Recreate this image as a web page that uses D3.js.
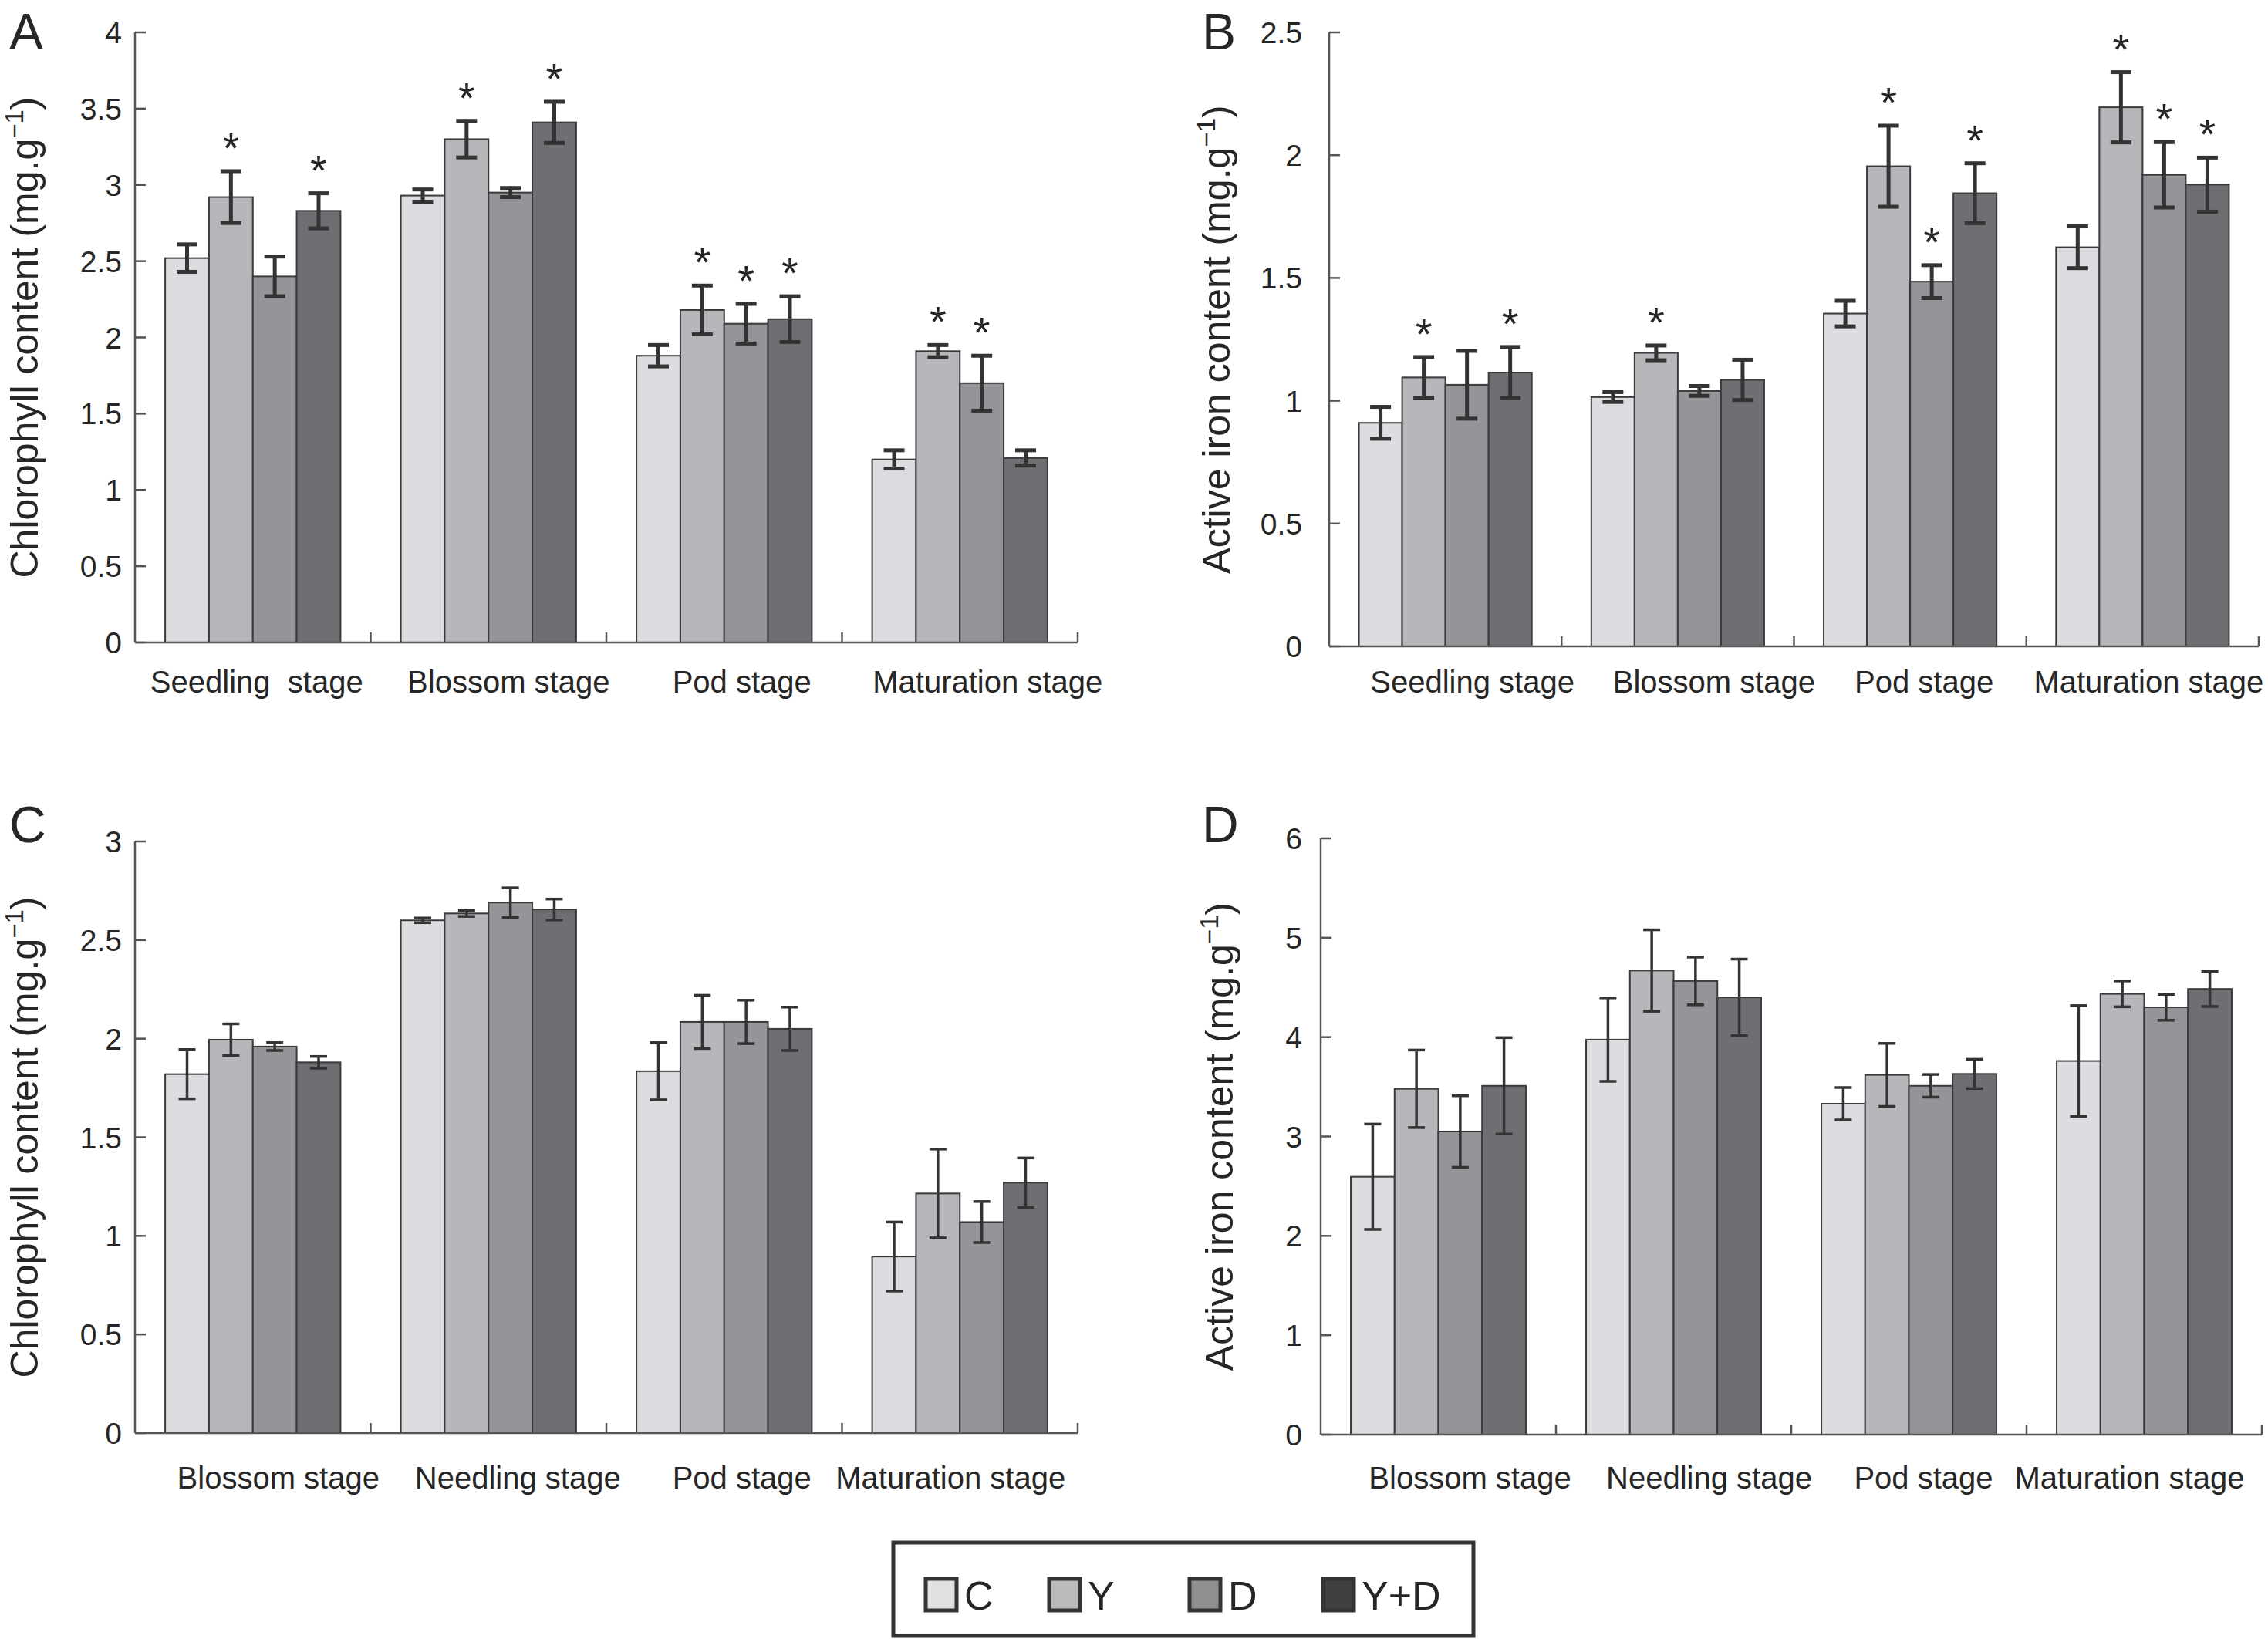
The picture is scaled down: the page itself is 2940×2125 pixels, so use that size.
<!DOCTYPE html>
<html>
<head>
<meta charset="utf-8">
<script src="https://cdn.jsdelivr.net/npm/d3@7"></script>
<style>
  body { margin: 0; background: #fff; }
  text { font-family: "Liberation Sans", Arial, sans-serif; fill: #262626; }
</style>
</head>
<body>
<svg id="fig" width="2940" height="2125"></svg>
<script>
// series + categories
const seriesNames = ["C", "Y", "D", "Y+D"];
const stagesTop = ["Seedling\u00a0 stage", "Blossom stage", "Pod stage", "Maturation stage"];
const stagesTopB = ["Seedling stage", "Blossom stage", "Pod stage", "Maturation stage"];
const stagesBottom = ["Blossom stage", "Needling stage", "Pod stage", "Maturation stage"];

// A: chlorophyll (rows = stage, cols = C, Y, D, Y+D)
const chlA = [[2.52, 2.92, 2.40, 2.83], [2.93, 3.30, 2.95, 3.41], [1.88, 2.18, 2.09, 2.12], [1.20, 1.91, 1.70, 1.21]];
const chlAErr = [[0.09, 0.17, 0.13, 0.115], [0.04, 0.12, 0.03, 0.135], [0.07, 0.16, 0.13, 0.15], [0.06, 0.04, 0.18, 0.05]];
const chlAStar = [[0, 1, 0, 1], [0, 1, 0, 1], [0, 1, 1, 1], [0, 1, 1, 0]];

// B: active iron
const ironB = [[0.91, 1.095, 1.065, 1.115], [1.015, 1.195, 1.04, 1.085], [1.355, 1.955, 1.485, 1.845], [1.625, 2.195, 1.92, 1.88]];
const ironBErr = [[0.065, 0.083, 0.138, 0.104], [0.02, 0.03, 0.02, 0.082], [0.052, 0.165, 0.067, 0.122], [0.085, 0.143, 0.133, 0.11]];
const ironBStar = [[0, 1, 0, 1], [0, 1, 0, 0], [0, 1, 1, 1], [0, 1, 1, 1]];

// C: chlorophyll
const chlC = [[1.82, 1.995, 1.96, 1.88], [2.60, 2.635, 2.69, 2.655], [1.835, 2.085, 2.085, 2.05], [0.895, 1.215, 1.07, 1.27]];
const chlCErr = [[0.125, 0.08, 0.02, 0.03], [0.012, 0.015, 0.075, 0.053], [0.145, 0.135, 0.11, 0.11], [0.175, 0.225, 0.104, 0.125]];

// D: active iron
const ironD = [[2.595, 3.48, 3.05, 3.51], [3.975, 4.67, 4.565, 4.40], [3.33, 3.62, 3.51, 3.63], [3.76, 4.435, 4.30, 4.485]];
const ironDErr = [[0.53, 0.39, 0.36, 0.485], [0.42, 0.41, 0.24, 0.385], [0.163, 0.317, 0.114, 0.147], [0.557, 0.13, 0.13, 0.177]];

const barFill = ["#dcdde0", "#b6b7ba", "#949598", "#6e6f73"];
const legendFill = ["#dfe0e2", "#b9babc", "#8e8f91", "#404042"];

const svg = d3.select("#fig");

function drawPanel(p) {
  const g = svg.append("g");
  const y = d3.scaleLinear().domain([0, p.yMax]).range([p.bottom, p.top]);
  const x0 = d3.scaleBand().domain(p.cats).range([p.left, p.right]).padding(0);
  const bw = x0.bandwidth();
  const x1 = d3.scaleBand().domain(seriesNames).range([bw * 0.128, bw * 0.872]).padding(0);

  // y axis
  const ticks = d3.range(0, p.yMax + 1e-9, p.yStep);
  g.append("line").attr("x1", p.left).attr("x2", p.left)
    .attr("y1", y(0)).attr("y2", y(p.yMax))
    .attr("stroke", "#555").attr("stroke-width", 2.5);
  g.selectAll(".yt").data(ticks).enter().append("line")
    .attr("x1", p.left).attr("x2", p.left + 14)
    .attr("y1", d => y(d)).attr("y2", d => y(d))
    .attr("stroke", "#555").attr("stroke-width", 2.5);
  g.selectAll(".yl").data(ticks).enter().append("text")
    .attr("x", p.left - p.tickGap).attr("y", d => y(d))
    .attr("dy", "0.36em").attr("text-anchor", "end")
    .attr("font-size", 39)
    .text(d3.format("~g"));

  // bars
  const rows = p.cats.map((c, i) => seriesNames.map((s, j) => ({
    cat: c, s: s, j: j, v: p.vals[i][j], e: p.errs[i][j], star: p.stars ? p.stars[i][j] : 0
  })));
  const grp = g.selectAll(".grp").data(rows).enter().append("g")
    .attr("transform", (d, i) => `translate(${x0(p.cats[i])},0)`);
  grp.selectAll("rect").data(d => d).enter().append("rect")
    .attr("x", d => x1(d.s)).attr("width", x1.bandwidth())
    .attr("y", d => y(d.v)).attr("height", d => y(0) - y(d.v))
    .attr("fill", d => barFill[d.j])
    .attr("stroke", "#3a3a3a").attr("stroke-width", 2);

  // error bars
  const cap = p.capW / 2;
  const eb = grp.selectAll(".eb").data(d => d).enter().append("g")
    .attr("stroke", "#333").attr("stroke-width", p.errW);
  eb.append("line")
    .attr("x1", d => x1(d.s) + x1.bandwidth() / 2).attr("x2", d => x1(d.s) + x1.bandwidth() / 2)
    .attr("y1", d => y(d.v + d.e)).attr("y2", d => y(d.v - d.e));
  eb.append("line")
    .attr("x1", d => x1(d.s) + x1.bandwidth() / 2 - cap).attr("x2", d => x1(d.s) + x1.bandwidth() / 2 + cap)
    .attr("y1", d => y(d.v + d.e)).attr("y2", d => y(d.v + d.e));
  eb.append("line")
    .attr("x1", d => x1(d.s) + x1.bandwidth() / 2 - cap).attr("x2", d => x1(d.s) + x1.bandwidth() / 2 + cap)
    .attr("y1", d => y(d.v - d.e)).attr("y2", d => y(d.v - d.e));

  // significance stars
  grp.selectAll(".star").data(d => d.filter(r => r.star)).enter().append("text")
    .attr("x", d => x1(d.s) + x1.bandwidth() / 2)
    .attr("y", d => y(d.v + d.e) - 11)
    .attr("text-anchor", "middle").attr("font-size", 56)
    .text("*");

  // x axis
  g.append("line").attr("x1", p.left).attr("x2", p.right)
    .attr("y1", y(0)).attr("y2", y(0))
    .attr("stroke", "#555").attr("stroke-width", 2.5);
  g.selectAll(".xt").data(p.cats).enter().append("line")
    .attr("x1", d => x0(d) + bw).attr("x2", d => x0(d) + bw)
    .attr("y1", y(0)).attr("y2", y(0) - 13)
    .attr("stroke", "#555").attr("stroke-width", 2.5);
  g.selectAll(".xl").data(p.cats).enter().append("text")
    .attr("x", (d, i) => x0(d) + bw / 2 + p.labelDx[i])
    .attr("y", p.labelY)
    .attr("text-anchor", "middle").attr("font-size", 40)
    .style("white-space", "pre")
    .text(d => d);

  // y title
  const t = g.append("text")
    .attr("transform", `translate(${p.titleX},${(p.top + p.bottom) / 2}) rotate(-90)`)
    .attr("text-anchor", "middle").attr("font-size", 50);
  t.append("tspan").text(p.title + " (mg.g");
  t.append("tspan").attr("font-size", 33).attr("dy", -19).text("\u22121");
  t.append("tspan").attr("dy", 19).text(")");

  // panel letter
  g.append("text").attr("x", p.letterX).attr("y", p.letterY)
    .attr("font-size", 66).text(p.letter);
}

drawPanel({ letter: "A", letterX: 12, letterY: 64, cats: stagesTop, vals: chlA, errs: chlAErr, stars: chlAStar,
  yMax: 4, yStep: 0.5, left: 175, right: 1397, top: 42, bottom: 833, tickGap: 17,
  labelY: 898, labelDx: [5, 26, 23, 36], title: "Chlorophyll content", titleX: 49, errW: 5, capW: 27 });

drawPanel({ letter: "B", letterX: 1558, letterY: 64, cats: stagesTopB, vals: ironB, errs: ironBErr, stars: ironBStar,
  yMax: 2.5, yStep: 0.5, left: 1723, right: 2928, top: 42, bottom: 838, tickGap: 35,
  labelY: 898, labelDx: [35, 47, 18, 8], title: "Active iron content", titleX: 1594, errW: 5, capW: 27 });

drawPanel({ letter: "C", letterX: 12, letterY: 1092, cats: stagesBottom, vals: chlC, errs: chlCErr, stars: null,
  yMax: 3, yStep: 0.5, left: 175, right: 1397, top: 1091, bottom: 1858, tickGap: 17,
  labelY: 1930, labelDx: [33, 38, 23, -12], title: "Chlorophyll content", titleX: 49, errW: 3.5, capW: 22 });

drawPanel({ letter: "D", letterX: 1558, letterY: 1092, cats: stagesBottom, vals: ironD, errs: ironDErr, stars: null,
  yMax: 6, yStep: 1, left: 1712, right: 2932, top: 1087, bottom: 1860, tickGap: 24,
  labelY: 1930, labelDx: [41, 46, 19, -19], title: "Active iron content", titleX: 1598, errW: 3.5, capW: 22 });

// legend
const legendX = [1200, 1360, 1542, 1715];
const lg = svg.append("g");
lg.append("rect").attr("x", 1158).attr("y", 2000).attr("width", 752).attr("height", 121)
  .attr("fill", "none").attr("stroke", "#333").attr("stroke-width", 5);
const item = lg.selectAll(".li").data(seriesNames).enter().append("g")
  .attr("transform", (d, i) => `translate(${legendX[i]},2047)`);
item.append("rect").attr("width", 40).attr("height", 41)
  .attr("fill", (d, i) => legendFill[i]).attr("stroke", "#333").attr("stroke-width", 5);
item.append("text").attr("x", 50).attr("y", 40).attr("font-size", 52).text(d => d);
</script>
</body>
</html>
